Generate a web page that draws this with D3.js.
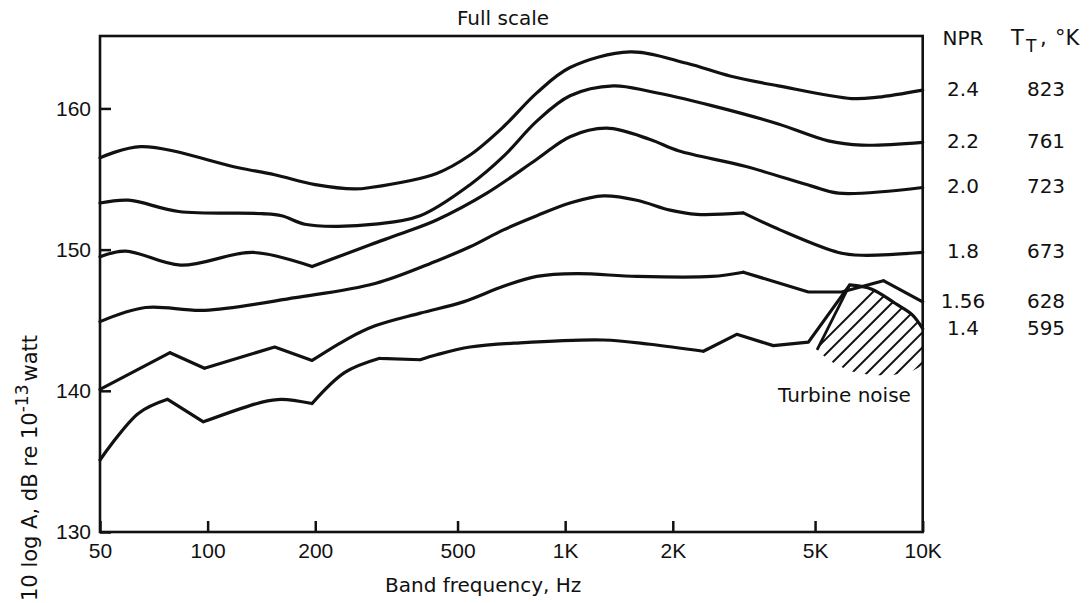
<!DOCTYPE html>
<html><head><meta charset="utf-8">
<script src="https://cdn.jsdelivr.net/npm/d3@7"></script>
<style>
body{margin:0;background:#fff}
svg{display:block}
.lbl{font-family:"DejaVu Sans",sans-serif;fill:#111}
.tick text{font-family:"Liberation Sans",Arial,sans-serif;font-size:21px;fill:#111}
</style>
</head><body>
<svg id="c" width="1090" height="603"></svg>
<script>
// ---- data ----
const freqTicks = [50,100,200,500,1000,2000,5000,10000];
const freqTickLabels = ["50","100","200","500","1K","2K","5K","10K"];
const dbTicks = [130,140,150,160];
const nprLabels = ["2.4","2.2","2.0","1.8","1.56","1.4"];
const ttLabels = ["823","761","723","673","628","595"];

// [band frequency Hz, 10 log A dB]
const npr24 = [[50,156.5],[65,157.3],[122,155.8],[154,155.3],[200,154.6],[258,154.3],[285,154.4],[437,155.4],[542,156.7],[672,158.7],[833,161.1],[1032,162.9],[1519,164.0],[2189,163.2],[2891,162.3],[3946,161.6],[6333,160.7],[7504,160.8],[10000,161.3]];
const npr22 = [[50,153.3],[60,153.5],[83,152.7],[142,152.55],[161,152.4],[187,151.8],[227,151.65],[294,151.8],[393,152.4],[542,154.6],[672,156.6],[833,159.1],[1032,160.9],[1364,161.6],[1728,161.2],[2570,160.2],[3946,158.9],[5445,157.7],[6756,157.4],[10000,157.6]];
const npr20 = [[50,149.5],[59,149.9],[84,148.9],[134,149.8],[196,148.8],[285,150.35],[345,151.1],[437,152.1],[604,154.0],[833,156.4],[1032,158.0],[1307,158.6],[1728,157.8],[2073,157.0],[3185,155.9],[4895,154.5],[5810,154.0],[10000,154.4]];
const npr18 = [[50,144.9],[67,145.9],[98,145.7],[176,146.6],[294,147.6],[437,149.2],[542,150.2],[672,151.4],[833,152.4],[1032,153.3],[1279,153.8],[1586,153.5],[1965,152.8],[2334,152.5],[3150,152.6],[3990,151.4],[5810,149.8],[6756,149.6],[10000,149.8]];
const npr156 = [[50,140.1],[78.5,142.7],[98,141.6],[154,143.1],[196,142.15],[247,143.7],[294,144.6],[393,145.5],[519,146.3],[672,147.4],[833,148.1],[1077,148.3],[1586,148.1],[2570,148.1],[3150,148.4],[4790,147.0],[5940,147.0],[7762,147.8],[10000,146.3]];
const npr14 = [[50,135.1],[64,138.4],[77.3,139.4],[97.3,137.8],[142,139.2],[161,139.4],[196,139.1],[242,141.3],[303,142.3],[393,142.2],[437,142.55],[542,143.1],[748,143.4],[1279,143.6],[1728,143.3],[2436,142.8],[3019,144.0],[3822,143.2],[4790,143.45],[6250,147.5],[7206,147.2],[8370,146.2],[9340,145.4],[10000,144.4]];

// frequencies where a curve has a sharp corner
const kinks24 = [];
const kinks22 = [];
const kinks20 = [196];
const kinks18 = [3150];
const kinks156 = [78.5,98,154,196,3150,4790,5940,7762];
const kinks14 = [77.3,97.3,196,303,393,2436,3019,3822,4790,6250];

// turbine noise region
const turbineTop = [[5065,142.9],[6250,147.5],[7206,147.2],[8370,146.2],[9340,145.4],[10000,144.4]];
const turbineBottom = [[10000,141.8],[9340,141.4],[8210,141.1],[7360,141.1],[6770,141.2],[6270,141.4],[5800,141.8],[5440,142.2],[5065,142.9]];

// ---- drawing ----
const svg = d3.select("#c");
const x = d3.scaleLog().domain([50,10000]).range([100,922.7]);
const y = d3.scaleLinear().domain([130,165.13]).range([532,36]);

const series = [
  {d:npr24,k:kinks24},{d:npr22,k:kinks22},{d:npr20,k:kinks20},
  {d:npr18,k:kinks18},{d:npr156,k:kinks156},{d:npr14,k:kinks14}
];

// axes (ticks inward)
const gx = svg.append("g").attr("transform","translate(0,532)")
  .call(d3.axisBottom(x).tickValues(freqTicks)
    .tickFormat((d,i)=>freqTickLabels[i]).tickSizeInner(-11).tickSizeOuter(0).tickPadding(11));
gx.select(".domain").remove();
gx.selectAll(".tick line").attr("stroke","#111").attr("stroke-width",2.5);

const gy = svg.append("g").attr("transform","translate(100,0)")
  .call(d3.axisLeft(y).tickValues(dbTicks).tickSizeInner(-11).tickSizeOuter(0).tickPadding(9));
gy.select(".domain").remove();
gy.selectAll(".tick line").attr("stroke","#111").attr("stroke-width",2.5);

// frame
svg.append("rect").attr("x",x(50)).attr("y",y(165.13))
  .attr("width",x(10000)-x(50)).attr("height",y(130)-y(165.13))
  .attr("fill","none").attr("stroke","#111").attr("stroke-width",2.6);

// turbine hatched region
const region = turbineTop.concat(turbineBottom);
svg.append("clipPath").attr("id","tclip").append("path")
  .attr("d", d3.line().x(d=>x(d[0])).y(d=>y(d[1])).curve(d3.curveLinearClosed)(region));
const hg = svg.append("g").attr("clip-path","url(#tclip)");
const cStart = x(turbineTop[0][0]) + y(turbineTop[0][1]) - 2;
const cEnd = x(10000) + y(turbineBottom[0][1]) + 40;
for (let c = cStart; c < cEnd; c += 15) {
  hg.append("line").attr("x1", c - 420).attr("y1", 420).attr("x2", c - 250).attr("y2", 250)
    .attr("stroke","#111").attr("stroke-width",2);
}
svg.append("path")
  .attr("d", d3.line().x(d=>x(d[0])).y(d=>y(d[1]))(turbineTop.slice(0,2)))
  .attr("fill","none").attr("stroke","#111").attr("stroke-width",2.8);

// curves
const lineGen = d3.line().x(d=>x(d[0])).y(d=>y(d[1])).curve(d3.curveCatmullRom.alpha(0.5));
function splitAt(data, kinks){
  const segs = []; let cur = [];
  data.forEach(p=>{
    cur.push(p);
    if (kinks.includes(p[0])) { segs.push(cur); cur = [p]; }
  });
  if (cur.length > 1) segs.push(cur);
  return segs;
}
series.forEach(s=>{
  svg.append("path")
    .attr("d", splitAt(s.d, s.k).map(seg=>lineGen(seg)).join(""))
    .attr("fill","none").attr("stroke","#111").attr("stroke-width",3.2)
    .attr("stroke-linejoin","round").attr("stroke-linecap","round");
});

// titles / labels
svg.append("text").attr("class","lbl").attr("x",503).attr("y",25)
  .attr("text-anchor","middle").attr("font-size",20).text("Full scale");
svg.append("text").attr("class","lbl").attr("x",385).attr("y",592)
  .attr("font-size",20).text("Band frequency, Hz");
svg.append("text").attr("class","lbl").attr("x",778).attr("y",402)
  .attr("font-size",20).text("Turbine noise");

const yl = svg.append("text").attr("class","lbl").attr("font-size",21)
  .attr("transform","translate(37,601) rotate(-90)");
yl.append("tspan").text("10 log A, dB re 10");
yl.append("tspan").attr("font-size",17).attr("dy",-9).text("-13");
yl.append("tspan").attr("dy",9).attr("dx",3).text("watt");

// legend
svg.append("text").attr("class","lbl").attr("x",963).attr("y",45)
  .attr("text-anchor","middle").attr("font-size",20).text("NPR");
const th = svg.append("text").attr("class","lbl").attr("y",45).attr("font-size",21);
th.append("tspan").attr("x",1011).text("T");
th.append("tspan").attr("x",1026).attr("dy",7).attr("font-size",17).text("T");
th.append("tspan").attr("x",1040).attr("dy",-7).text(",");
th.append("tspan").attr("x",1055).text("°K");

series.forEach((s,i)=>{
  const last = s.d[s.d.length-1];
  const yy = y(last[1]) + 6;
  svg.append("text").attr("class","lbl").attr("x",963).attr("y",yy)
    .attr("text-anchor","middle").attr("font-size",20).text(nprLabels[i]);
  svg.append("text").attr("class","lbl").attr("x",1046).attr("y",yy)
    .attr("text-anchor","middle").attr("font-size",20).text(ttLabels[i]);
});
</script>
</body></html>
